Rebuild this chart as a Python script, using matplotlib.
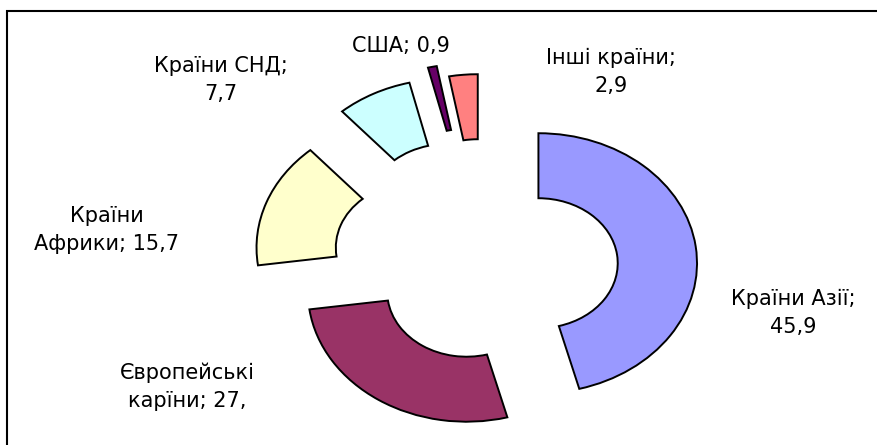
import matplotlib
matplotlib.use("Agg")
import matplotlib.pyplot as plt
from matplotlib.patches import Rectangle

# Data (shares, %)
labels = ["Країни Азії", "Європейські\nкарїни", "Країни\nАфрики", "Країни СНД", "США", "Інші країни"]
value_text = ["45,9", "27,", "15,7", "7,7", "0,9", "2,9"]
values = [45.9, 27.0, 15.7, 7.7, 0.9, 2.9]

# Styling
colors = ["#9999FF", "#993366", "#FFFFCC", "#CCFFFF", "#660066", "#FF8080"]
explode = [0.34, 0.21, 0.47, 0.52, 0.59, 0.50]
# label text: (axes x, axes y, text layout)
label_pos = [(0.904, 0.297), (0.214, 0.130), (0.122, 0.483),
             (0.252, 0.820), (0.457, 0.897), (0.697, 0.838)]
label_fmt = ["{};\n{}", "{}; {}", "{}; {}", "{};\n{}", "{}; {}", "{};\n{}"]

plt.rcParams['font.family'] = ['DejaVu Sans']

fig = plt.figure(figsize=(8.77, 4.45), dpi=100)
ax = fig.add_axes([0, 0, 1, 1])

ax.pie(values, colors=colors, explode=explode, startangle=90, counterclock=False,
       radius=1.0, wedgeprops=dict(width=0.5, edgecolor="black", linewidth=1.4))

# Excel-style stretched doughnut
ax.set_aspect("auto")
ax.set_xlim(-3.058, 2.472)
ax.set_ylim(-1.354, 2.069)
ax.axis("off")

for lab, val, fmt, (px, py) in zip(labels, value_text, label_fmt, label_pos):
    ax.text(px, py, fmt.format(lab, val), transform=ax.transAxes,
            ha="center", va="center", multialignment="center",
            fontsize=15, linespacing=1.5, color="black")

# chart area border (only top and left visible)
fig.add_artist(Rectangle((7 / 877, -0.2), 1.2, 0.2 + 1 - 11 / 445,
                         transform=fig.transFigure, fill=False,
                         edgecolor="black", linewidth=1.5))

fig.savefig("out.png", dpi=100)
